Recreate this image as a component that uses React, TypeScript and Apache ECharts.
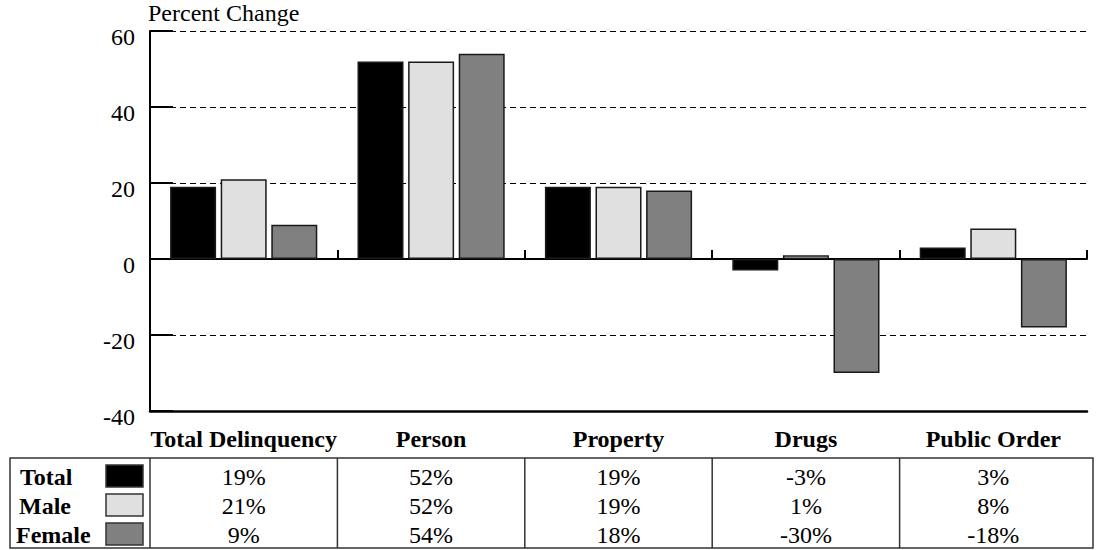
import React, { useEffect, useRef } from "react";
import * as echarts from "echarts";

const categories = ["Total Delinquency", "Person", "Property", "Drugs", "Public Order"];
const seriesNames = ["Total", "Male", "Female"];
const totalValues = [19, 52, 19, -3, 3];
const maleValues = [21, 52, 19, 1, 8];
const femaleValues = [9, 54, 18, -30, -18];
const seriesColors = ["#000000", "#e0e0e0", "#808080"];
const yMin = -40;
const yMax = 60;
const yInterval = 20;
const yTitle = "Percent Change";

const FONT = "Liberation Serif";

export default function App() {
  const ref = useRef<HTMLDivElement>(null);
  useEffect(() => {
    if (!ref.current) return;
    const chart = echarts.init(ref.current, null, { renderer: "svg" });
    const W = 1098;
    const gridLeft = 150;
    const gridRight = 1087;
    const gridTop = 31;
    const gridBottom = 411;
    const catW = (gridRight - gridLeft) / categories.length;

    const allValues = [totalValues, maleValues, femaleValues];

    const tableTop = 458;
    const tableBottom = 548;
    const rowY = [477, 506, 535];
    const labelX = [20, 19, 16];

    const graphics: any[] = [];
    graphics.push({
      type: "text",
      x: 148,
      y: 1,
      style: {
        text: yTitle,
        fontFamily: FONT,
        fontSize: 24,
        fill: "#000",
        align: "left",
        verticalAlign: "top",
      },
    });
    graphics.push({
      type: "rect",
      shape: { x: 10, y: tableTop, width: 1083, height: tableBottom - tableTop },
      style: { fill: "none", stroke: "#333", lineWidth: 1.5 },
    });
    for (let i = 0; i < categories.length; i++) {
      const x = gridLeft + i * catW;
      graphics.push({
        type: "line",
        shape: { x1: x, y1: tableTop, x2: x, y2: tableBottom },
        style: { stroke: "#333", lineWidth: 1.5 },
      });
    }
    seriesNames.forEach((name, r) => {
      graphics.push({
        type: "text",
        x: labelX[r],
        y: rowY[r],
        style: {
          text: name,
          fontFamily: FONT,
          fontSize: 24,
          fontWeight: "bold",
          fill: "#000",
          align: "left",
          verticalAlign: "middle",
        },
      });
      graphics.push({
        type: "rect",
        shape: { x: 106, y: rowY[r] - 12, width: 37, height: 22 },
        style: { fill: seriesColors[r], stroke: "#333", lineWidth: 1.5 },
      });
      allValues[r].forEach((v, c) => {
        graphics.push({
          type: "text",
          x: gridLeft + (c + 0.5) * catW,
          y: rowY[r],
          style: {
            text: `${v}%`,
            fontFamily: FONT,
            fontSize: 24,
            fill: "#000",
            align: "center",
            verticalAlign: "middle",
          },
        });
      });
    });

    chart.setOption({
      animation: false,
      textStyle: { fontFamily: FONT },
      grid: {
        left: gridLeft,
        right: W - gridRight,
        top: gridTop,
        bottom: 550 - gridBottom,
        containLabel: false,
      },
      xAxis: [
        {
          type: "category",
          data: categories,
          position: "bottom",
          axisLine: { onZero: false, lineStyle: { color: "#000", width: 2.5 } },
          axisTick: { show: false },
          axisLabel: {
            interval: 0,
            margin: 16,
            color: "#000",
            fontFamily: FONT,
            fontWeight: "bold",
            fontSize: 24,
          },
          splitLine: { show: false },
        },
        {
          type: "category",
          data: categories,
          position: "bottom",
          axisLine: { onZero: true, lineStyle: { color: "#000", width: 2 } },
          axisTick: {
            show: true,
            inside: true,
            length: 9,
            interval: 0,
            lineStyle: { color: "#000", width: 2 },
          },
          axisLabel: { show: false },
          splitLine: { show: false },
        },
      ],
      yAxis: {
        type: "value",
        min: yMin,
        max: yMax,
        interval: yInterval,
        axisLine: { show: true, lineStyle: { color: "#000", width: 2 } },
        axisTick: {
          show: true,
          inside: true,
          length: 23,
          lineStyle: { color: "#000", width: 2 },
        },
        axisLabel: {
          margin: 15,
          color: "#000",
          fontFamily: FONT,
          fontSize: 24,
          verticalAlign: "top",
          lineHeight: 12,
        },
        splitLine: {
          show: true,
          lineStyle: { color: "#000", width: 1, type: [6, 4] },
        },
      },
      graphic: graphics,
      series: seriesNames.map((name, i) => ({
        name,
        type: "bar",
        xAxisIndex: 0,
        data: allValues[i],
        barWidth: 46,
        barGap: "10%",
        itemStyle: {
          color: seriesColors[i],
          borderColor: "#1a1a1a",
          borderWidth: 1.5,
        },
      })),
    });
    return () => chart.dispose();
  }, []);
  return (
    <div
      ref={ref}
      style={{ position: "fixed", left: 0, top: 0, width: 1098, height: 550, background: "#fff" }}
    />
  );
}
